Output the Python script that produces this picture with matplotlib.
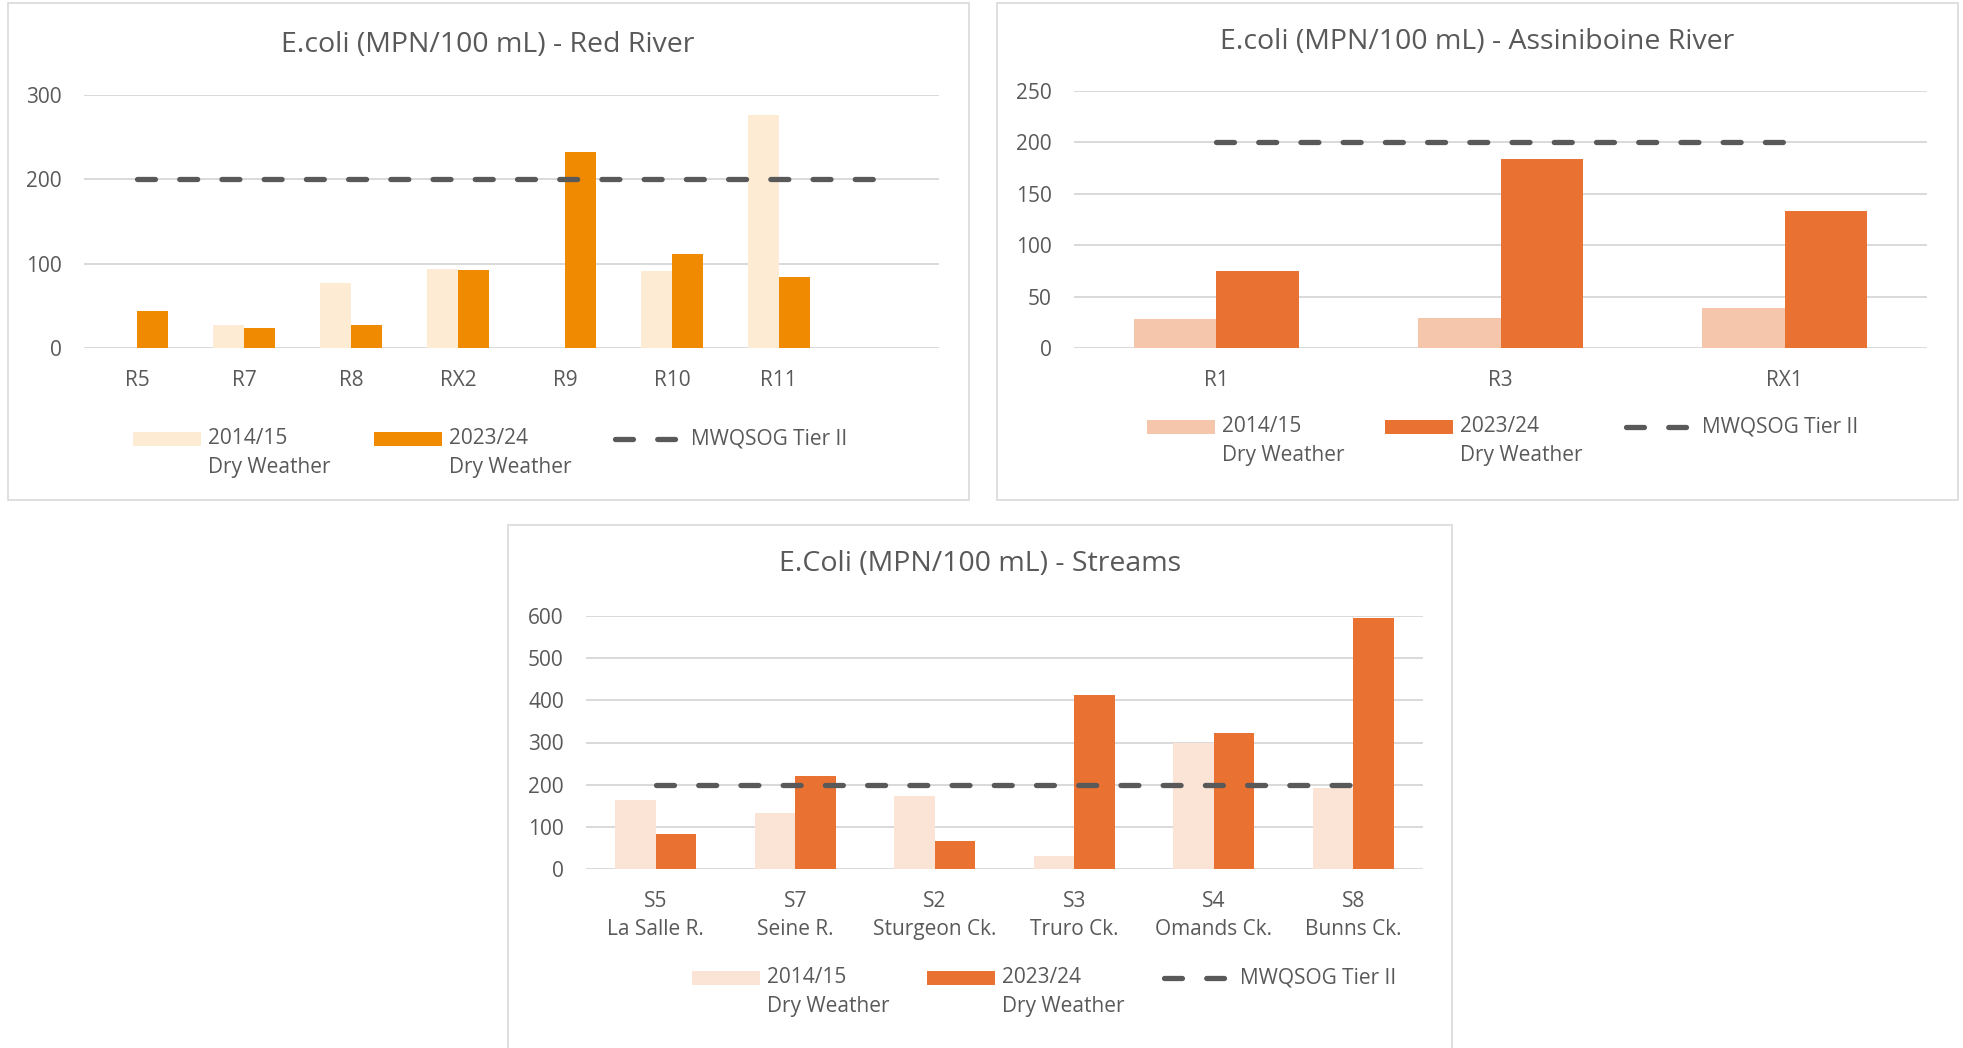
import matplotlib
matplotlib.use("Agg")
import matplotlib.pyplot as plt
from matplotlib.patches import Rectangle
from matplotlib.lines import Line2D
import numpy as np

plt.rcParams['font.family'] = ['Open Sans', 'DejaVu Sans']

# E.coli results (MPN/100 mL), dry weather sampling
red_sites = ['R5', 'R7', 'R8', 'RX2', 'R9', 'R10', 'R11', '']
red_2014 = [np.nan, 27, 77, 94, np.nan, 91, 276, np.nan]
red_2023 = [44, 24, 27, 93, 232, 111, 84, np.nan]
red_tier2 = [200, 200, 200, 200, 200, 200, 200, 200]

assin_sites = ['R1', 'R3', 'RX1']
assin_2014 = [28, 29, 39]
assin_2023 = [75, 184, 133]
assin_tier2 = [200, 200, 200]

stream_sites = ['S5\nLa Salle R.', 'S7\nSeine R.', 'S2\nSturgeon Ck.',
                'S3\nTruro Ck.', 'S4\nOmands Ck.', 'S8\nBunns Ck.']
stream_2014 = [163, 133, 173, 32, 298, 192]
stream_2023 = [83, 220, 66, 412, 323, 596]
stream_tier2 = [200, 200, 200, 200, 200, 200]

legend_labels = ['2014/15\nDry Weather', '2023/24\nDry Weather', 'MWQSOG Tier II']

W, H = 1963, 1048
GREY = '#595959'
GRID = '#D9D9D9'
BAR_W = 0.29
DASH = dict(color=GREY, lw=3.8, dashes=(3.4, 4.6), dash_capstyle='round')

fig = plt.figure(figsize=(W / 100, H / 100), dpi=100)


def fx(x):
    return x / W


def fy(y):
    return 1 - y / H


def chart(rect, sites, old, new, tier, colors, ylim, step, xpad):
    ax = fig.add_axes(rect)
    x = np.arange(len(sites))
    ax.bar(x - BAR_W / 2, old, BAR_W, color=colors[0], zorder=2)
    ax.bar(x + BAR_W / 2, new, BAR_W, color=colors[1], zorder=2)
    ax.plot(x, tier, zorder=3, **DASH)
    ax.set_xlim(-0.5, len(sites) - 0.5)
    ax.set_ylim(0, ylim)
    ax.set_yticks(np.arange(0, ylim + 1, step))
    ax.set_xticks(x)
    ax.set_xticklabels(sites, linespacing=1.45)
    ax.grid(axis='y', color=GRID, lw=1.4, zorder=0)
    for s in ax.spines.values():
        s.set_visible(False)
    ax.tick_params(length=0, labelsize=15, colors=GREY)
    ax.tick_params(axis='y', pad=16)
    ax.tick_params(axis='x', pad=xpad)
    return ax


def frame(x0, y0, x1, y1):
    fig.add_artist(Rectangle((fx(x0), fy(y1)), fx(x1 - x0), (y1 - y0) / H,
                             transform=fig.transFigure, fill=False,
                             ec=GRID, lw=1.2, clip_on=False))


def legend(colors, xs, y1, y2):
    # two swatches plus the guideline dash, text left of each entry
    yc = (y1 + y2) / 2
    for i in range(2):
        x0 = xs[i]
        fig.add_artist(Rectangle((fx(x0), fy(y1 + 7)), fx(68), 14 / H,
                                 transform=fig.transFigure, color=colors[i], lw=0))
        fig.text(fx(x0 + 75), fy(yc), legend_labels[i], ha='left', va='center',
                 fontsize=15, color=GREY, linespacing=1.5)
    x0 = xs[2]
    fig.add_artist(Line2D([fx(x0 + 3), fx(x0 + 63)], [fy(y1), fy(y1)],
                          transform=fig.transFigure, **DASH))
    fig.text(fx(x0 + 79), fy(y1), legend_labels[2], ha='left', va='center',
             fontsize=15, color=GREY)


# Red River
frame(8, 3, 969, 500)
fig.text(fx(488), fy(45), 'E.coli (MPN/100 mL) - Red River', ha='center', va='center',
         fontsize=20.5, color=GREY)
chart([fx(84), fy(348), fx(855), 253 / H], red_sites, red_2014, red_2023, red_tier2,
      ['#FDEBD3', '#F08A00'], 300, 100, 16)
legend(['#FDEBD3', '#F08A00'], [133, 374, 612], 439, 468)

# Assiniboine River
frame(997, 3, 1958, 500)
fig.text(fx(1477), fy(42), 'E.coli (MPN/100 mL) - Assiniboine River', ha='center',
         va='center', fontsize=20.5, color=GREY)
chart([fx(1074), fy(348), fx(853), 257 / H], assin_sites, assin_2014, assin_2023,
      assin_tier2, ['#F6C6AC', '#E97132'], 250, 50, 16)
legend(['#F6C6AC', '#E97132'], [1147, 1385, 1623], 427, 455)

# Streams
frame(508, 525, 1452, 1060)
fig.text(fx(980), fy(564), 'E.Coli (MPN/100 mL) - Streams', ha='center', va='center',
         fontsize=20.5, color=GREY)
chart([fx(586), fy(869), fx(837), 253 / H], stream_sites, stream_2014, stream_2023,
      stream_tier2, ['#FBE3D6', '#E97132'], 600, 100, 16)
legend(['#FBE3D6', '#E97132'], [692, 927, 1161], 978, 1006)

fig.savefig('out.png', dpi=100)
